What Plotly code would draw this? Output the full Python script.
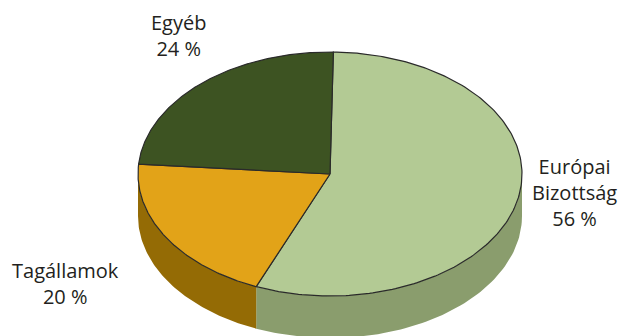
import numpy as np
import plotly.graph_objects as go

# ---- data ----
categories = ["Európai<br>Bizottság", "Tagállamok", "Egyéb"]
values = [56, 20, 24]
top_colors = ["#b3ca94", "#e2a318", "#3d5322"]
side_colors = ["#8a9d6d", "#946b05", "#2c3d18"]
label_pos = [(574, 192), (65, 283), (178, 35)]

# ---- geometry (pixel space) ----
W, H = 630, 336
cx, cy, a, b = 330, 174, 192, 122
depth = 42
start = 89.0

def pt(theta_deg):
    t = np.radians(theta_deg)
    return cx + a * np.cos(t), cy - b * np.sin(t)

total = sum(values)
angles = [start]
for v in values:
    angles.append(angles[-1] - 360.0 * v / total)

fig = go.Figure()

# side walls (front half: theta in (-180, 0) mod 360)
for i in range(len(values)):
    t0, t1 = angles[i], angles[i + 1]  # t0 > t1 (clockwise)
    for k in range(-2, 2):
        lo, hi = -180 + 360 * k, 0 + 360 * k
        s0, s1 = min(t0, hi), max(t1, lo)
        if s0 > s1:
            th = np.linspace(s0, s1, 80)
            xs, ys = pt(th)
            X = np.concatenate([xs, xs[::-1], xs[:1]])
            Y = np.concatenate([ys, ys[::-1] + depth, ys[:1]])
            fig.add_trace(go.Scatter(x=X, y=Y, mode="lines", fill="toself",
                                     fillcolor=side_colors[i],
                                     line=dict(width=0, color=side_colors[i]),
                                     hoverinfo="skip", showlegend=False))

# top faces
for i in range(len(values)):
    th = np.linspace(angles[i], angles[i + 1], 200)
    xs, ys = pt(th)
    X = np.concatenate([[cx], xs, [cx]])
    Y = np.concatenate([[cy], ys, [cy]])
    fig.add_trace(go.Scatter(x=X, y=Y, mode="lines", fill="toself",
                             fillcolor=top_colors[i],
                             line=dict(width=1.2, color="#2a2a2a"),
                             hoverinfo="skip", showlegend=False))

for cat, v, (lx, ly) in zip(categories, values, label_pos):
    fig.add_annotation(x=lx, y=ly, xref="x", yref="y",
                       text=f"{cat}<br>{v} %", showarrow=False,
                       font=dict(family="Open Sans", size=20, color="#231f20"),
                       align="center")

fig.update_layout(
    width=W, height=H, margin=dict(l=0, r=0, t=0, b=0),
    paper_bgcolor="white", plot_bgcolor="white",
    xaxis=dict(range=[0, W], visible=False, fixedrange=True),
    yaxis=dict(range=[H, 0], visible=False, fixedrange=True),
)
fig.write_html("out.html")
